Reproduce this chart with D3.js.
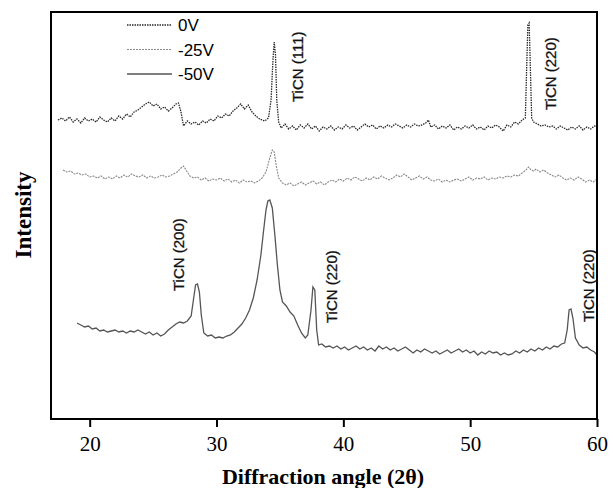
<!DOCTYPE html>
<html>
<head>
<meta charset="utf-8">
<script src="https://cdn.jsdelivr.net/npm/d3@7"></script>
<style>
	body { margin: 0; background: #fff; }
	svg { display: block; }
</style>
</head>
<body>
<div id="container"></div>
<script>
// XRD patterns, intensity in arbitrary units (patterns are stacked by offset)
var angles0 = [17.5,17.8,18.1,18.4,18.7,19.0,19.3,19.6,19.9,20.2,20.5,20.8,21.1,21.4,21.7,22.0,22.3,22.6,22.9,23.2,23.5,23.8,24.1,24.4,24.7,25.0,25.3,25.6,25.9,26.2,26.5,26.8,27.0,27.2,27.4,27.7,28.0,28.3,28.6,28.9,29.2,29.5,29.8,30.1,30.4,30.7,31.0,31.3,31.6,31.9,32.2,32.5,32.8,33.1,33.4,33.8,34.1,34.3,34.45,34.55,34.65,34.75,34.9,35.1,35.4,35.7,36.0,36.3,36.6,36.9,37.2,37.5,37.8,38.1,38.4,38.7,39.0,39.3,39.6,39.9,40.2,40.5,40.8,41.1,41.4,41.7,42.0,42.3,42.6,42.9,43.2,43.5,43.8,44.1,44.4,44.7,45.0,45.3,45.6,45.9,46.2,46.5,46.7,46.9,47.2,47.5,47.8,48.1,48.4,48.7,49.0,49.3,49.6,49.9,50.2,50.5,50.8,51.1,51.4,51.7,52.0,52.3,52.6,52.9,53.2,53.5,53.8,54.1,54.35,54.45,54.55,54.65,54.75,54.85,55.0,55.3,55.6,55.9,56.2,56.5,56.8,57.1,57.4,57.7,58.0,58.3,58.6,58.9,59.2,59.5,59.8,60.0];
var counts0 = [299,301,298,302,297,300,296,301,298,300,297,302,299,297,301,298,303,300,305,302,307,309,312,315,317,313,315,310,312,308,311,315,316,307,293,298,295,297,294,298,296,300,298,303,301,305,303,308,311,315,310,314,307,303,300,298,301,319,359,377,364,319,297,291,295,290,293,289,294,291,295,290,293,288,292,290,293,289,292,290,294,291,293,289,292,295,292,294,290,293,291,294,292,295,293,291,294,292,295,293,294,296,299,292,294,290,293,291,294,289,292,290,293,291,294,290,292,289,293,291,294,292,288,294,292,297,295,299,301,349,394,396,349,301,297,295,293,294,292,293,290,293,291,289,292,290,293,289,292,290,293,292];

var angles25 = [17.9,18.2,18.5,18.8,19.1,19.4,19.7,20.0,20.3,20.6,20.9,21.2,21.5,21.8,22.1,22.4,22.7,23.0,23.3,23.6,23.9,24.2,24.5,24.8,25.1,25.4,25.7,26.0,26.3,26.6,26.9,27.2,27.4,27.6,27.9,28.2,28.5,28.8,29.1,29.4,29.7,30.0,30.3,30.6,30.9,31.2,31.5,31.8,32.1,32.4,32.7,33.0,33.3,33.6,33.9,34.2,34.4,34.55,34.7,34.9,35.2,35.5,35.8,36.1,36.4,36.7,37.0,37.3,37.6,37.9,38.2,38.5,38.8,39.1,39.4,39.7,40.0,40.3,40.6,40.9,41.2,41.5,41.8,42.1,42.4,42.7,43.0,43.3,43.6,43.9,44.2,44.5,44.8,45.1,45.4,45.7,46.0,46.3,46.6,46.9,47.2,47.5,47.8,48.1,48.4,48.7,49.0,49.3,49.6,49.9,50.2,50.5,50.8,51.1,51.4,51.7,52.0,52.3,52.6,52.9,53.2,53.5,53.8,54.1,54.4,54.6,54.8,55.0,55.2,55.5,55.8,56.1,56.4,56.7,57.0,57.3,57.6,57.9,58.2,58.5,58.8,59.1,59.4,59.7,60.0];
var counts25 = [249,247,248,245,246,244,245,242,243,241,243,240,242,240,243,241,244,242,245,243,242,244,241,243,241,242,244,242,243,245,247,251,253,249,243,241,242,239,241,238,240,239,241,238,240,237,239,236,239,237,238,236,238,241,247,261,269,267,254,241,236,234,236,233,235,237,234,236,238,235,237,234,237,239,237,240,238,241,239,242,240,238,241,239,242,240,243,241,239,241,244,242,245,242,239,241,243,240,242,239,238,240,237,239,237,239,240,238,240,242,239,241,240,242,239,241,240,242,241,243,242,244,243,246,249,252,249,248,250,247,249,246,244,242,244,241,239,241,239,242,240,237,239,237,240];

var angles50 = [19.0,19.3,19.6,19.9,20.2,20.5,20.8,21.1,21.4,21.7,22.0,22.3,22.6,22.9,23.2,23.5,23.8,24.1,24.4,24.7,25.0,25.3,25.6,25.9,26.2,26.5,26.8,27.1,27.4,27.7,28.0,28.2,28.35,28.5,28.65,28.8,29.0,29.3,29.6,29.9,30.2,30.5,30.8,31.1,31.4,31.7,32.0,32.3,32.6,32.9,33.2,33.5,33.7,33.9,34.05,34.2,34.4,34.6,34.8,35.0,35.2,35.5,35.8,36.1,36.4,36.7,37.0,37.2,37.45,37.6,37.75,37.9,38.05,38.3,38.6,38.9,39.2,39.5,39.8,40.1,40.4,40.7,41.0,41.3,41.6,41.9,42.2,42.5,42.8,43.1,43.4,43.7,44.0,44.3,44.6,44.9,45.2,45.5,45.8,46.1,46.4,46.7,47.0,47.3,47.6,47.9,48.2,48.5,48.8,49.1,49.4,49.7,50.0,50.3,50.6,50.9,51.2,51.5,51.8,52.1,52.4,52.7,53.0,53.3,53.6,53.9,54.2,54.5,54.8,55.1,55.4,55.7,56.0,56.3,56.6,56.9,57.2,57.45,57.65,57.8,57.95,58.1,58.3,58.6,58.9,59.2,59.5,59.8,60.0];
var counts50 = [96,94,92,93,90,91,88,89,87,88,89,87,88,86,88,87,89,87,85,87,84,86,83,85,89,92,95,97,96,98,103,121,134,135,127,104,86,83,84,81,82,81,83,84,87,91,95,101,109,121,139,164,187,209,218,219,211,184,154,129,117,113,107,103,94,86,81,84,109,132,129,89,74,75,72,73,71,73,70,72,69,71,73,70,72,69,71,68,73,70,72,69,71,68,70,72,69,66,69,67,70,68,66,68,65,67,69,66,68,70,67,69,66,68,64,67,65,68,66,67,64,66,64,65,68,66,69,67,70,68,71,69,72,70,73,72,75,76,89,109,110,101,81,74,71,72,69,67,64,62];

var seriesNames = ["0V", "-25V", "-50V"];
var xTicks = [20, 30, 40, 50, 60];

// peak labels: [angle of the text baseline, intensity where the text starts]
var peakLabels = [
	{text: "TiCN (111)", angle: 36.85, level: 317},
	{text: "TiCN (220)", angle: 56.8, level: 309},
	{text: "TiCN (200)", angle: 27.4, level: 128},
	{text: "TiCN (220)", angle: 39.5, level: 96},
	{text: "TiCN (220)", angle: 59.75, level: 97}
];

var width = 613, height = 488;
var margin = {top: 12, right: 16, bottom: 69, left: 51};
var w = width - margin.left - margin.right,
	h = height - margin.top - margin.bottom;

var svg = d3.select("#container").append("svg")
	.attr("width", width)
	.attr("height", height);

var g = svg.append("g")
	.attr("transform", "translate(" + margin.left + "," + margin.top + ")");

var x = d3.scaleLinear().domain([16.95, 60]).range([0, w]);
var y = d3.scaleLinear().domain([0, 407]).range([h, 0]);

var series = [
	{name: seriesNames[0], xs: angles0, ys: counts0, color: "#2a2a2a", dash: "1.5,1", width: 1.3},
	{name: seriesNames[1], xs: angles25, ys: counts25, color: "#8a8a8a", dash: "2,1", width: 1.1},
	{name: seriesNames[2], xs: angles50, ys: counts50, color: "#555", dash: null, width: 1.3}
];

var line = d3.line()
	.x(function(d) { return x(d[0]); })
	.y(function(d) { return y(d[1]); });

series.forEach(function(s) {
	var pts = s.xs.map(function(a, i) { return [a, s.ys[i]]; });
	g.append("path")
		.datum(pts)
		.attr("fill", "none")
		.attr("stroke", s.color)
		.attr("stroke-width", s.width)
		.attr("stroke-dasharray", s.dash)
		.attr("d", line);
});

// peak labels
g.selectAll(".peak")
	.data(peakLabels).enter()
	.append("text")
		.attr("class", "peak")
		.attr("transform", function(d) { return "translate(" + x(d.angle) + "," + y(d.level) + ") rotate(-90)"; })
		.style("font-family", "Arial, 'Liberation Sans', sans-serif")
		.style("font-size", "15px")
		.style("fill", "#111")
		.style("stroke", "#111")
		.style("stroke-width", 0.3)
		.text(function(d) { return d.text; });

// frame
g.append("rect")
	.attr("width", w)
	.attr("height", h)
	.attr("fill", "none")
	.attr("stroke", "#000")
	.attr("stroke-width", 2);

// x axis
var xAxis = d3.axisBottom(x).tickValues(xTicks).tickSize(8).tickSizeOuter(0);
var ax = g.append("g")
	.attr("transform", "translate(0," + h + ")")
	.call(xAxis);
ax.select(".domain").remove();
ax.selectAll("line").attr("stroke", "#000").attr("stroke-width", 2);
ax.selectAll("text")
	.attr("y", 17)
	.style("font-family", "'Liberation Serif', 'Times New Roman', serif")
	.style("font-size", "21px")
	.style("fill", "#000");

// axis titles
svg.append("text")
	.attr("x", 323)
	.attr("y", 484)
	.style("text-anchor", "middle")
	.style("font-family", "'Liberation Serif', 'Times New Roman', serif")
	.style("font-weight", "bold")
	.style("font-size", "22px")
	.text("Diffraction angle (2\u03b8)");

svg.append("text")
	.attr("transform", "translate(31,215) rotate(-90)")
	.style("text-anchor", "middle")
	.style("font-family", "'Liberation Serif', 'Times New Roman', serif")
	.style("font-weight", "bold")
	.style("font-size", "23px")
	.text("Intensity");

// legend
var legend = g.selectAll(".legend")
	.data(series).enter()
	.append("g")
		.attr("class", "legend")
		.attr("transform", function(d, i) { return "translate(76," + (13 + i * 24.5) + ")"; });

legend.append("line")
	.attr("x1", 0)
	.attr("x2", 45)
	.attr("stroke", function(d) { return d.color; })
	.attr("stroke-width", function(d) { return d.width; })
	.attr("stroke-dasharray", function(d) { return d.dash; });

legend.append("text")
	.attr("x", 51)
	.attr("dy", "0.36em")
	.style("font-family", "Arial, 'Liberation Sans', sans-serif")
	.style("font-size", "17px")
	.text(function(d) { return d.name; });
</script>
</body>
</html>
